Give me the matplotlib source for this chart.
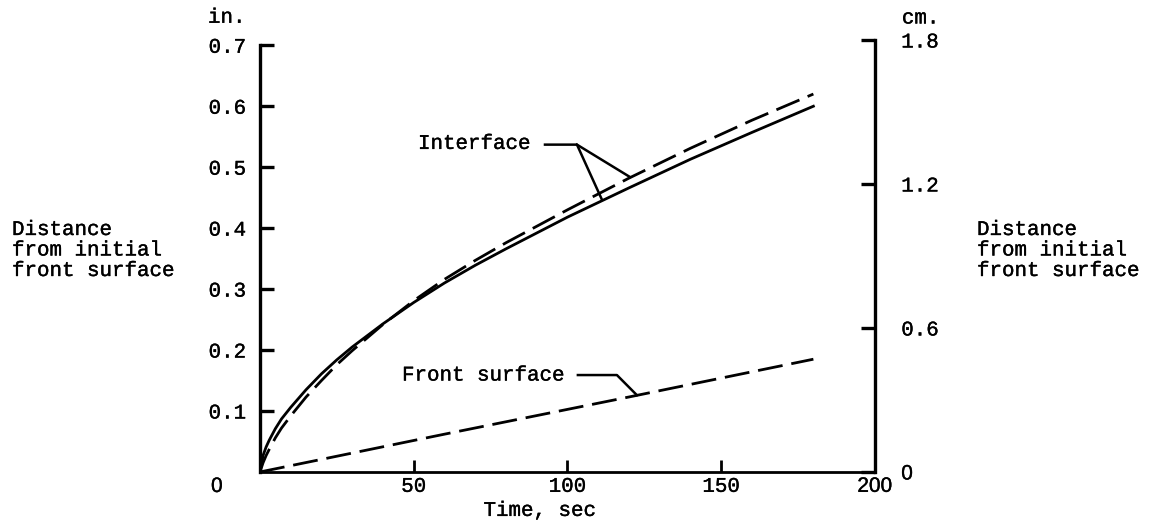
import matplotlib
matplotlib.use("Agg")
import matplotlib.pyplot as plt
import matplotlib.patheffects as pe

plt.rcParams['font.family'] = ['Liberation Mono', 'DejaVu Sans Mono']
plt.rcParams['font.size'] = 15

# Time, sec
time_s = [0, 1, 2, 3, 5, 7, 10, 15, 20, 25, 30, 40, 50, 60, 70, 80,
          100, 120, 140, 160, 180]
# Interface position, in. (solid and dashed curves)
interface_solid = [0, 0.027, 0.041, 0.052, 0.071, 0.087, 0.106, 0.135, 0.161,
                   0.184, 0.205, 0.243, 0.278, 0.310, 0.339, 0.366,
                   0.418, 0.466, 0.513, 0.557, 0.600]
interface_dashed = [0, 0.015, 0.027, 0.037, 0.056, 0.072, 0.092, 0.123, 0.150,
                    0.176, 0.199, 0.242, 0.281, 0.316, 0.347, 0.376,
                    0.430, 0.482, 0.531, 0.577, 0.620]
# Front surface position, in.
front_time = [0, 60, 120, 180]
front_surface = [0, 0.062, 0.123, 0.185]

x_ticks = [50, 100, 150, 200]
x_ticklabels = ['50', '100', '150', '200']
in_ticks = [0.1, 0.2, 0.3, 0.4, 0.5, 0.6, 0.7]
in_ticklabels = ['0.1', '0.2', '0.3', '0.4', '0.5', '0.6', '0.7']
cm_ticks = [0, 0.6, 1.2, 1.8]
cm_ticklabels = ['0', '0.6', '1.2', '1.8']

CM_PER_IN = 2.54
SPINE_LW = 2.4
LINE_LW = 2.0
DASH = (0, (9, 3.2))
INK = [pe.withStroke(linewidth=0.25, foreground='black')]

fig = plt.figure(figsize=(11.58, 5.29), dpi=100)
ax = fig.add_axes([0.2245, 0.1078, 0.531, 0.8166])
ax.set_xlim(0, 200)
ax.set_ylim(0, 1.8 / CM_PER_IN)

ax.plot(time_s, interface_solid, color='black', lw=LINE_LW)
ax.plot(time_s, interface_dashed, color='black', lw=LINE_LW, linestyle=DASH)
ax.plot(front_time, front_surface, color='black', lw=LINE_LW, linestyle=DASH)

# Spines
ax.spines['top'].set_visible(False)
ax.spines['right'].set_visible(False)
ax.spines['left'].set_linewidth(SPINE_LW)
ax.spines['bottom'].set_linewidth(2.0)
ax.spines['left'].set_bounds(0, 0.7)

ax.set_xticks(x_ticks)
ax.set_xticklabels(x_ticklabels)
ax.set_yticks(in_ticks)
ax.set_yticklabels(in_ticklabels)
ax.tick_params(axis='x', direction='in', length=9, width=2.0, pad=3.5)
ax.tick_params(axis='y', direction='in', length=10, width=SPINE_LW, pad=10)
for lbl in ax.get_xticklabels():
    if lbl.get_text() == '200':
        lbl.set_fontfamily('Liberation Sans')

# Secondary axis in centimetres
axr = ax.twinx()
axr.set_ylim(0, 1.8)
for s in ['top', 'left', 'bottom']:
    axr.spines[s].set_visible(False)
axr.spines['right'].set_linewidth(SPINE_LW)
axr.set_yticks(cm_ticks)
axr.set_yticklabels(cm_ticklabels)
axr.tick_params(axis='y', direction='in', length=10, width=SPINE_LW, pad=19)
for lbl in axr.get_yticklabels():
    if lbl.get_text() == '0':
        lbl.set_fontfamily('Liberation Sans')

texts = []
# Unit labels above the scales
texts.append(ax.annotate('in.', xy=(0, 0.7), xycoords=('axes fraction', 'data'),
                         xytext=(-52, 28), textcoords='offset pixels',
                         ha='left', va='center'))
texts.append(ax.annotate('cm.', xy=(1, 1.8 / CM_PER_IN),
                         xycoords=('axes fraction', 'data'),
                         xytext=(27, 22), textcoords='offset pixels',
                         ha='left', va='center'))

# Origin label of the time scale
texts.append(ax.annotate('0', xy=(-14, 0), xycoords=('data', 'axes fraction'),
                         xytext=(0, -5), textcoords='offset pixels',
                         ha='center', va='top', family='Liberation Sans'))

texts.append(ax.text(0.455, -0.089, 'Time, sec', transform=ax.transAxes,
                     ha='center', va='center'))

title = 'Distance\nfrom initial\nfront surface'
texts.append(fig.text(12 / 1158, 1 - 250 / 529, title, ha='left', va='center',
                      linespacing=1.1))
texts.append(fig.text(977 / 1158, 1 - 250 / 529, title, ha='left', va='center',
                      linespacing=1.1))

# Curve labels with leader lines
texts.append(ax.text(51.4, 0.539, 'Interface', ha='left', va='center'))
ax.plot([92.7, 103.1, 111.2], [0.537, 0.537, 0.447], color='black', lw=1.8)
ax.plot([103.1, 120.3], [0.537, 0.484], color='black', lw=1.8)

texts.append(ax.text(46.2, 0.159, 'Front surface', ha='left', va='center'))
ax.plot([103.4, 116.1, 122.6], [0.159, 0.159, 0.126], color='black', lw=1.8)

texts += ax.get_xticklabels() + ax.get_yticklabels() + axr.get_yticklabels()
for t in texts:
    t.set_path_effects(INK)

fig.savefig('out.png', dpi=100, facecolor='white')
